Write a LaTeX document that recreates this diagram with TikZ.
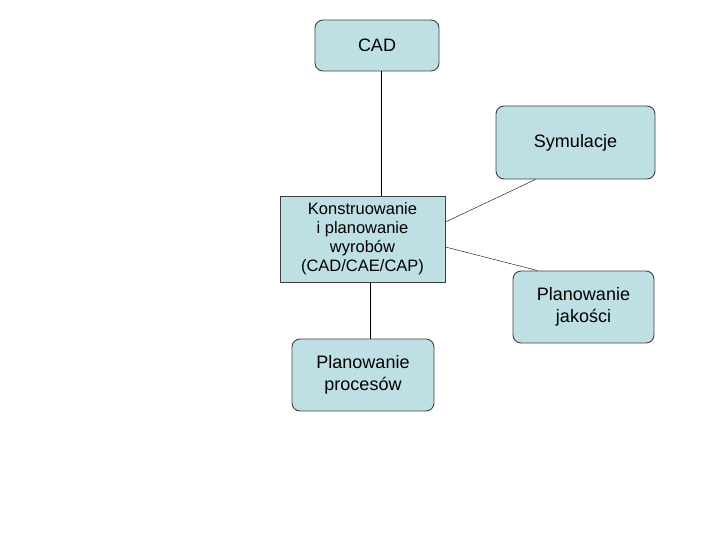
\documentclass[tikz,border=0pt]{standalone}
\usepackage{fontspec}
\setmainfont{Liberation Sans}
\definecolor{boxfill}{RGB}{190,224,228}
\begin{document}
\begin{tikzpicture}[x=1pt, y=-1pt,
    topic/.style={draw=black!75, line width=0.9pt, fill=boxfill, rounded corners=8pt, align=center,
        inner sep=0pt, font=\fontsize{18}{22}\selectfont},
    main/.style={draw=black!75, line width=0.9pt, fill=boxfill, align=center, inner sep=0pt,
        font=\fontsize{16.5}{19}\selectfont}]
    \useasboundingbox (0,0) rectangle (720,540);
    % Boxes
    \node[topic, minimum width=124pt, minimum height=51pt] (cad) at (377,45.5) {CAD};
    \node[topic, minimum width=159pt, minimum height=73pt] (sym) at (575.5,142.5) {Symulacje};
    \node[main, minimum width=165pt, minimum height=86pt] (kon) at (362.5,239)
        {Konstruowanie\\i planowanie\\wyrobów\\(CAD/CAE/CAP)};
    \node[topic, minimum width=141pt, minimum height=72pt] (jak) at (583.5,307) {Planowanie\\jakości};
    \node[topic, minimum width=142pt, minimum height=72pt] (proc) at (363,375) {Planowanie\\procesów};
    % Links
    \draw ([xshift=4pt]cad.south) -- ([xshift=4pt]cad.south |- kon.north);
    \draw ([yshift=17pt]kon.east) -- ([xshift=-40pt]sym.south);
    \draw ([yshift=-8pt]kon.east) -- ([xshift=-46pt]jak.north);
    \draw ([xshift=8pt]kon.south) -- ([xshift=8pt]kon.south |- proc.north);
\end{tikzpicture}
\end{document}
